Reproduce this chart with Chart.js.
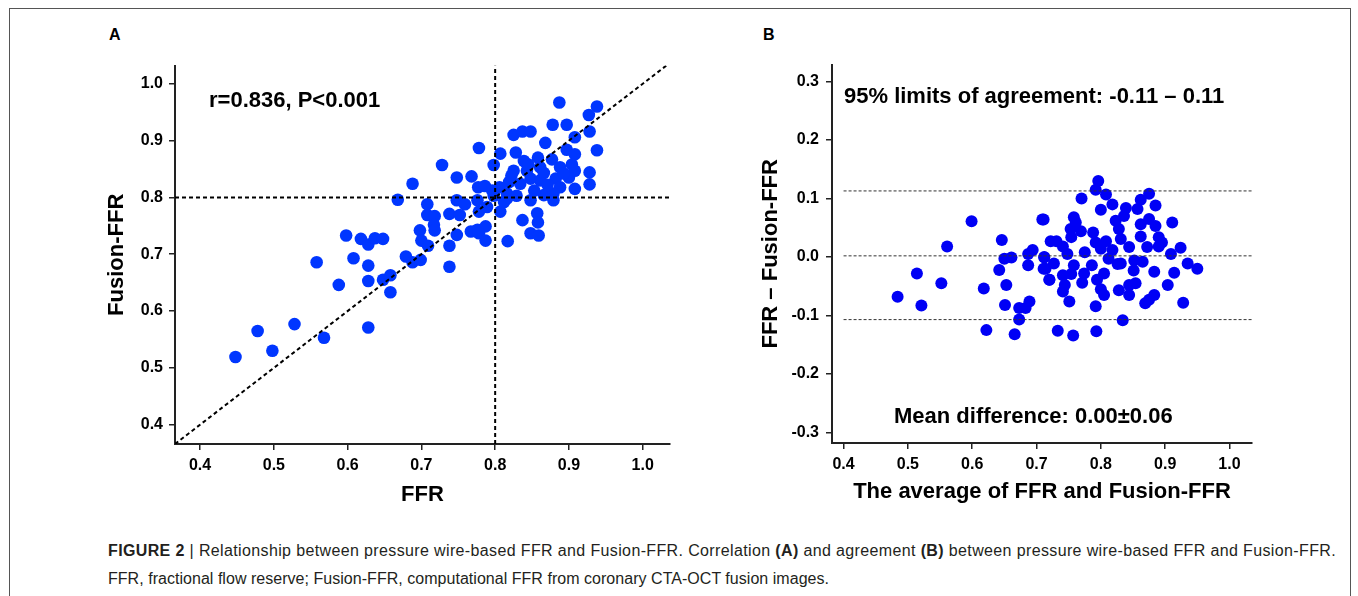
<!DOCTYPE html>
<html>
<head>
<meta charset="utf-8">
<script src="https://cdn.jsdelivr.net/npm/chart.js@4.4.1/dist/chart.umd.min.js"></script>
<style>
  body { margin:0; background:#fff; width:1358px; height:596px; overflow:hidden; position:relative;
         font-family:"Liberation Sans", Arial, sans-serif; }
  #frame { position:absolute; left:9px; top:8px; width:1340px; height:640px; border:1px solid #555; }
  .panel { position:absolute; font-weight:bold; font-size:16px; line-height:1; color:#000; }
  .note { position:absolute; font-weight:bold; font-size:22px; line-height:1; white-space:nowrap; color:#000; }
  .cap { position:absolute; left:108px; font-size:16px; line-height:1; color:#231f20; white-space:nowrap; }
  canvas { position:absolute; }
</style>
</head>
<body>
<div id="frame"></div>
<div class="panel" style="left:109px;top:27px">A</div>
<div class="panel" style="left:763px;top:27px">B</div>

<canvas id="chartA" width="590" height="470" style="left:95px;top:50px"></canvas>
<canvas id="chartB" width="515" height="472" style="left:750px;top:48px"></canvas>

<div class="note" style="left:209px;top:89px">r=0.836, P&lt;0.001</div>
<div class="note" style="left:844px;top:85px">95% limits of agreement: -0.11 – 0.11</div>
<div class="note" style="left:894px;top:405px">Mean difference: 0.00±0.06</div>

<div class="cap" id="cap1" style="top:543px"><b>FIGURE 2</b> | Relationship between pressure wire-based FFR and Fusion-FFR. Correlation <b>(A)</b> and agreement <b>(B)</b> between pressure wire-based FFR and Fusion-FFR.</div>
<div class="cap" id="cap2" style="top:571px">FFR, fractional flow reserve; Fusion-FFR, computational FFR from coronary CTA-OCT fusion images.</div>

<script>
// Panel A: correlation FFR vs Fusion-FFR
const ffrA = [
  0.448,0.478,0.498,0.528,0.568,0.628,0.558,0.588,0.598,0.608,0.618,0.628,0.637,0.648,0.628,0.628,0.648,0.658,0.658,
  0.778,0.728,0.748,0.688,0.768,0.807,0.798,0.825,0.668,0.708,0.708,0.718,0.717,0.698,0.718,0.700,0.709,0.679,0.688,0.699,
  0.738,0.738,0.738,0.748,0.748,0.759,0.752,0.767,0.776,0.787,0.778,0.787,0.777,0.786,0.776,0.778,0.789,0.807,0.817,0.806,
  0.816,0.819,0.825,
  0.887,0.938,0.927,0.928,0.938,0.878,0.897,0.837,0.848,0.868,0.908,0.897,0.908,0.828,0.839,0.858,0.877,0.843,0.861,0.888,
  0.904,0.908,0.928,0.928,0.848,0.834,0.861,0.882,0.900,0.888,0.908,0.816,0.848,0.866,0.879,0.879,0.857,0.858,0.837,0.848,
  0.859,
  0.798,0.812,0.829,0.853,0.871,0.893,0.845,0.866,0.822,0.796
];
const fusionA = [
  0.519,0.565,0.530,0.577,0.553,0.571,0.686,0.646,0.733,0.693,0.727,0.717,0.728,0.727,0.680,0.653,0.655,0.663,0.633,
  0.887,0.857,0.835,0.824,0.837,0.877,0.857,0.910,0.796,0.788,0.769,0.767,0.752,0.742,0.742,0.724,0.715,0.696,0.686,0.690,
  0.715,0.678,0.771,0.795,0.734,0.788,0.769,0.740,0.743,0.749,0.737,0.724,0.818,0.820,0.795,0.775,0.783,0.775,0.723,0.818,
  0.798,0.827,0.847,
  0.967,0.960,0.945,0.916,0.883,0.928,0.928,0.916,0.916,0.896,0.906,0.884,0.876,0.879,0.864,0.870,0.867,0.847,0.853,0.853,
  0.858,0.847,0.844,0.823,0.833,0.824,0.830,0.833,0.835,0.818,0.815,0.807,0.795,0.804,0.807,0.795,0.772,0.756,0.760,0.737,
  0.733,
  0.803,0.792,0.803,0.812,0.822,0.842,0.858,0.843,0.838,0.812
];

// Panel B: Bland-Altman
const avgB = [
  0.599,0.561,0.514,0.484,0.521,0.552,0.646,0.709,0.618,0.642,0.650,0.661,0.653,0.651,0.673,0.683,0.689,0.673,0.622,0.666,
  0.687,0.694,0.687,0.712,0.711,0.720,0.722,
  0.796,0.792,0.808,0.770,0.875,0.862,0.885,0.818,0.800,0.839,0.857,0.711,0.758,0.761,0.823,0.836,0.875,0.885,0.911,0.828,
  0.862,0.753,0.769,0.754,0.788,0.731,0.792,0.808,0.831,0.862,0.890,0.895,0.890,0.741,0.775,0.800,0.818,0.844,0.872,0.924,
  0.909,0.748,0.812,0.831,0.852,0.865,0.712,0.727,0.714,0.758,0.786,0.935,0.950,0.826,0.851,0.741,0.774,0.805,0.720,0.754,
  0.794,0.883,0.914,0.744,0.771,0.800,0.844,0.854,0.904,0.741,0.805,0.828,0.844,0.883,0.875,0.869,0.751,0.928,0.792,0.834,
  0.733,0.757,0.793
];
const diffB = [
  0.061,0.018,-0.028,-0.068,-0.083,-0.045,0.029,0.064,-0.054,-0.022,-0.003,-0.001,-0.048,-0.082,-0.087,-0.087,-0.076,-0.107,-0.125,-0.132,
  0.005,0.012,-0.014,-0.001,-0.020,-0.039,0.027,
  0.130,0.115,0.107,0.100,0.108,0.098,0.088,0.090,0.081,0.084,0.082,0.064,0.068,0.059,0.062,0.070,0.065,0.053,0.059,0.048,
  0.056,0.048,0.044,0.034,0.042,0.027,0.025,0.027,0.031,0.035,0.034,0.025,0.018,0.018,0.008,0.014,0.012,0.017,0.017,0.016,
  0.005,0.005,-0.003,-0.011,-0.006,-0.008,0.000,-0.011,-0.020,-0.014,-0.014,-0.011,-0.020,-0.012,-0.023,-0.031,-0.028,-0.028,-0.039,-0.029,
  -0.039,-0.025,-0.027,-0.048,-0.044,-0.055,-0.048,-0.045,-0.048,-0.059,-0.065,-0.057,-0.065,-0.065,-0.073,-0.079,-0.076,-0.078,-0.084,-0.108,
  -0.126,-0.134,-0.127
];

const xTicks = [0.4, 0.5, 0.6, 0.7, 0.8, 0.9, 1.0];
const yTicksA = [0.4, 0.5, 0.6, 0.7, 0.8, 0.9, 1.0];
const yTicksB = [-0.3, -0.2, -0.1, 0.0, 0.1, 0.2, 0.3];
const cutoff = 0.8;
const limitsB = [0.113, 0.002, -0.107];   // upper LoA, mean, lower LoA

const FONT = '"Liberation Sans", Arial, sans-serif';

function axis(opt) {
  return {
    type: 'linear',
    min: opt.min, max: opt.max,
    afterFit: s => { if (opt.w) s.width = opt.w; if (opt.h) s.height = opt.h; },
    afterBuildTicks: s => { s.ticks = opt.ticks.map(v => ({ value: v })); },
    ticks: {
      callback: v => Number(v).toFixed(1),
      color: '#000', padding: opt.pad, maxRotation: 0, autoSkip: false,
      font: { family: FONT, size: 16, weight: 'bold' }
    },
    grid: { display: true, drawOnChartArea: false, drawTicks: true, tickLength: 6, color: '#222', lineWidth: 1.5 },
    border: { display: true, color: '#222', width: 2 },
    title: { display: true, text: opt.title, color: '#000', padding: opt.tpad,
             font: { family: FONT, size: 22, weight: 'bold' } }
  };
}

function refLine(p1, p2, w, dash, col) {
  return { data: [p1, p2], showLine: true, pointRadius: 0, borderColor: col, borderWidth: w,
           borderDash: dash, fill: false, order: 0 };
}

// ---- Chart A
const xMinA = 0.366, xMaxA = 1.037, yMinA = 0.366, yMaxA = 1.032;
new Chart(document.getElementById('chartA'), {
  type: 'scatter',
  data: {
    datasets: [
      refLine({x: xMinA, y: xMinA}, {x: xMaxA, y: xMaxA}, 2, [4, 3], '#000'),
      refLine({x: xMinA, y: cutoff}, {x: xMaxA, y: cutoff}, 2, [4, 3], '#000'),
      refLine({x: cutoff, y: yMinA}, {x: cutoff, y: yMaxA}, 2, [4, 3], '#000'),
      { data: ffrA.map((v, i) => ({ x: v, y: fusionA[i] })), pointRadius: 6.3, pointBackgroundColor: '#0036ff',
        pointBorderWidth: 0, order: 1 }
    ]
  },
  options: {
    responsive: false, animation: false, events: [],
    layout: { padding: { left: 0, top: 12, right: 15, bottom: 0 } },
    plugins: { legend: { display: false }, tooltip: { enabled: false } },
    scales: {
      x: axis({ min: xMinA, max: xMaxA, ticks: xTicks, h: 76, pad: 6, title: 'FFR', tpad: { top: 0, bottom: 12 } }),
      y: axis({ min: yMinA, max: yMaxA, ticks: yTicksA, w: 80, pad: 6, title: 'Fusion-FFR', tpad: { top: 9, bottom: 0 } })
    }
  }
});

// ---- Chart B
const xMinB = 0.382, xMaxB = 1.035, yMinB = -0.318, yMaxB = 0.329;
new Chart(document.getElementById('chartB'), {
  type: 'scatter',
  data: {
    datasets: [
      ...limitsB.map(v => refLine({x: 0.4, y: v}, {x: xMaxB, y: v}, 1, [3, 2], '#333')),
      { data: avgB.map((v, i) => ({ x: v, y: diffB[i] })), pointRadius: 6, pointBackgroundColor: '#0000f5',
        pointBorderWidth: 0, order: 1 }
    ]
  },
  options: {
    responsive: false, animation: false, events: [],
    layout: { padding: { left: 0, top: 12, right: 13, bottom: 0 } },
    plugins: { legend: { display: false }, tooltip: { enabled: false } },
    scales: {
      x: axis({ min: xMinB, max: xMaxB, ticks: xTicks, h: 77, pad: 6, title: 'The average of FFR and Fusion-FFR', tpad: { top: 0, bottom: 15 } }),
      y: axis({ min: yMinB, max: yMaxB, ticks: yTicksB, w: 82, pad: 7, title: 'FFR – Fusion-FFR', tpad: { top: 8, bottom: 0 } })
    }
  }
});

// stretch caption lines to the reference widths
function fitWidth(id, target) {
  const el = document.getElementById(id);
  const n = el.textContent.length;
  const w = el.getBoundingClientRect().width;
  el.style.letterSpacing = ((target - w) / n) + 'px';
}
fitWidth('cap1', 1228);
fitWidth('cap2', 721);
</script>
</body>
</html>
